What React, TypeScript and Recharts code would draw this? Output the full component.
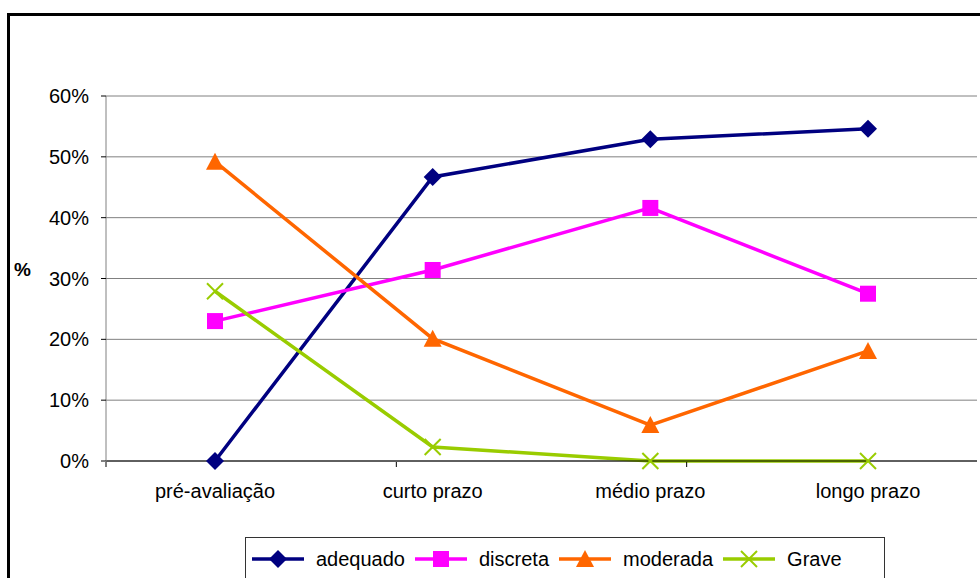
import { LineChart, Line, XAxis, YAxis, CartesianGrid } from "recharts";

const categories = ["pré-avaliação", "curto prazo", "médio prazo", "longo prazo"];
const adequado = [0, 46.7, 52.9, 54.6];
const discreta = [23.0, 31.4, 41.6, 27.5];
const moderada = [49.2, 20.1, 5.9, 18.1];
const grave = [27.9, 2.3, 0, 0];
const yTicks = [0, 10, 20, 30, 40, 50, 60];
const catBounds = [0, 1, 2, 3, 4];

const data = categories.map((name, i) => ({
  name,
  adequado: adequado[i],
  discreta: discreta[i],
  moderada: moderada[i],
  Grave: grave[i],
}));

const FONT = "'Liberation Sans', Arial, sans-serif";

const SERIES = [
  { key: "adequado", color: "#000080", shape: "diamond" },
  { key: "discreta", color: "#FF00FF", shape: "square" },
  { key: "moderada", color: "#FF6600", shape: "triangle" },
  { key: "Grave", color: "#99CC00", shape: "cross" },
];

const Marker = ({ shape, color, cx, cy }: { shape: string; color: string; cx: number; cy: number }) => {
  if (shape === "diamond")
    return <polygon points={`${cx},${cy - 9} ${cx + 9},${cy} ${cx},${cy + 9} ${cx - 9},${cy}`} fill={color} />;
  if (shape === "square") return <rect x={cx - 8} y={cy - 8} width={16} height={16} fill={color} />;
  if (shape === "triangle")
    return <polygon points={`${cx},${cy - 9} ${cx + 9},${cy + 8} ${cx - 9},${cy + 8}`} fill={color} />;
  return (
    <g stroke={color} strokeWidth={2}>
      <line x1={cx - 8} y1={cy - 8} x2={cx + 8} y2={cy + 8} />
      <line x1={cx - 8} y1={cy + 8} x2={cx + 8} y2={cy - 8} />
    </g>
  );
};

const makeDot = (shape: string, color: string) => (props: any) => {
  const { cx, cy, index } = props;
  if (cx == null || cy == null) return <g key={`d-${index}`} />;
  return (
    <g key={`d-${shape}-${index}`}>
      <Marker shape={shape} color={color} cx={cx} cy={cy} />
    </g>
  );
};

const LegendBox = () => (
  <div
    style={{
      display: "flex",
      alignItems: "center",
      border: "1px solid #333",
      background: "#fff",
      height: 44,
      padding: "0 0 0 6px",
      boxSizing: "border-box",
      width: 640,
      fontFamily: FONT,
      fontSize: 20,
      color: "#000",
    }}
  >
    {SERIES.map((s) => (
      <div key={s.key} style={{ display: "flex", alignItems: "center", marginRight: 10 }}>
        <svg width={52} height={20}>
          <line x1={0} y1={10} x2={52} y2={10} stroke={s.color} strokeWidth={3.5} />
          <Marker shape={s.shape} color={s.color} cx={26} cy={10} />
        </svg>
        <span style={{ marginLeft: 12 }}>{s.key}</span>
      </div>
    ))}
  </div>
);

export default function App() {
  return (
    <div
      style={{
        position: "absolute",
        left: 0,
        top: 0,
        width: 980,
        height: 578,
        overflow: "hidden",
        background: "#fff",
      }}
    >
      <div
        style={{
          position: "absolute",
          left: 7,
          top: 13,
          width: 1000,
          height: 600,
          border: "3px solid #000",
        }}
      />
      <div
        style={{
          position: "absolute",
          left: 14,
          top: 259,
          fontFamily: FONT,
          fontSize: 19,
          fontWeight: "bold",
        }}
      >
        %
      </div>
      <div style={{ position: "absolute", left: 0, top: 0 }}>
        <LineChart
          width={980}
          height={578}
          data={data}
          margin={{ top: 96, right: 3, bottom: 115, left: 105 }}
          style={{ fontFamily: FONT }}
        >
          <CartesianGrid vertical={false} stroke="#808080" strokeWidth={1} />
          <XAxis
            dataKey="name"
            height={1}
            padding={{ left: 109, right: 109 }}
            tickLine={false}
            axisLine={{ stroke: "#000" }}
            tickSize={0}
            tickMargin={23}
            tick={{ fill: "#000", fontSize: 20 }}
            interval={0}
          />
          <XAxis
            xAxisId="bounds"
            type="number"
            domain={[0, 4]}
            ticks={catBounds}
            height={1}
            axisLine={false}
            tick={() => <g />}
            tickSize={5}
            tickLine={{ stroke: "#000" }}
          />
          <YAxis
            width={1}
            domain={[0, 60]}
            ticks={yTicks}
            tickFormatter={(v: number) => `${v}%`}
            axisLine={{ stroke: "#808080" }}
            tickLine={{ stroke: "#000" }}
            tickSize={5}
            tickMargin={12}
            tick={{ fill: "#000", fontSize: 20 }}
          />
          {SERIES.map((s) => (
            <Line
              key={s.key}
              dataKey={s.key}
              stroke={s.color}
              strokeWidth={3.5}
              dot={makeDot(s.shape, s.color)}
              activeDot={false}
              isAnimationActive={false}
            />
          ))}
        </LineChart>
      </div>
      <div style={{ position: "absolute", left: 245, top: 537 }}>
        <LegendBox />
      </div>
    </div>
  );
}
